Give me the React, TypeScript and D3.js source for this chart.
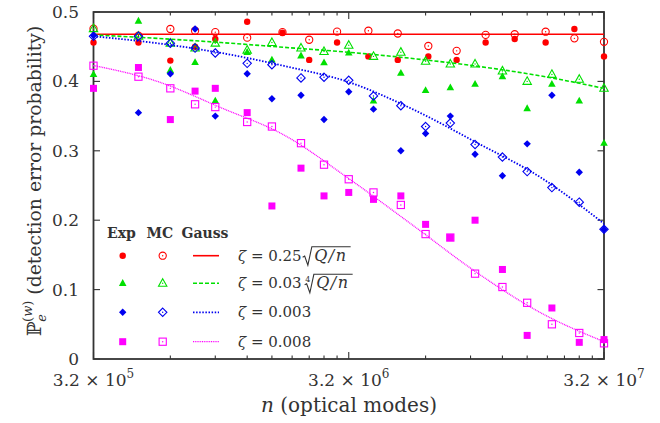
import React, { useLayoutEffect, useRef, useState } from 'react';
import * as d3 from 'd3';

// ---- data ----
const N_SHARED = [3.2e5, 4.8e5, 6.4e5, 8e5, 9.6e5, 1.28e6, 1.6e6, 2.08e6, 2.56e6, 3.2e6, 4e6, 5.12e6, 6.4e6, 8e6, 1e7, 1.28e7, 1.6e7, 2e7, 2.56e7, 3.2e7];
const N_RED = [3.2e5, 4.8e5, 6.4e5, 8e5, 9.6e5, 1.28e6, 1.76e6, 2.24e6, 2.88e6, 3.82e6, 4.98e6, 6.56e6, 8.47e6, 1.1e7, 1.43e7, 1.89e7, 2.45e7, 3.2e7];
const N_GAUSS = [3.2e5, 5.69e5, 1.012e6, 1.8e6, 3.2e6, 5.69e6, 1.012e7, 1.8e7, 3.2e7];

const RED_EXP = [0.456, 0.456, 0.430, 0.450, 0.461, 0.486, 0.470, 0.431, 0.456, 0.436, 0.431, 0.436, 0.431, 0.456, 0.461, 0.456, 0.4755, 0.436];
const RED_MC = [0.476, 0.466, 0.4755, 0.473, 0.471, 0.463, 0.471, 0.460, 0.4717, 0.473, 0.469, 0.451, 0.444, 0.467, 0.468, 0.4716, 0.462, 0.457];
const RED_GAUSS = [0.468, 0.468, 0.468, 0.468, 0.468, 0.468, 0.468, 0.468, 0.468];

const GREEN_EXP = [0.410, 0.487, 0.416, 0.4275, 0.372, 0.442, 0.431, 0.437, 0.427, 0.441, 0.372, 0.412, 0.387, 0.391, 0.396, 0.407, 0.361, 0.396, 0.372, 0.311];
const GREEN_MC = [0.476, 0.465, 0.455, 0.448, 0.455, 0.445, 0.456, 0.448, 0.443, 0.452, 0.436, 0.442, 0.429, 0.425, 0.425, 0.415, 0.400, 0.410, 0.403, 0.390];
const GREEN_GAUSS = [0.467, 0.462, 0.456, 0.449, 0.442, 0.433, 0.422, 0.408, 0.390];

const BLUE_EXP = [0.466, 0.355, 0.411, 0.4755, 0.350, 0.411, 0.375, 0.380, 0.345, 0.385, 0.360, 0.300, 0.325, 0.350, 0.295, 0.264, 0.310, 0.380, 0.269, 0.187];
const BLUE_MC = [0.465, 0.465, 0.455, 0.448, 0.441, 0.426, 0.424, 0.405, 0.406, 0.4016, 0.379, 0.365, 0.335, 0.340, 0.309, 0.291, 0.270, 0.247, 0.226, 0.187];
const BLUE_GAUSS = [0.465, 0.455, 0.441, 0.422, 0.399, 0.360, 0.312, 0.262, 0.195];

const MAG_EXP = [0.390, 0.420, 0.345, 0.386, 0.390, 0.355, 0.2205, 0.275, 0.235, 0.240, 0.230, 0.235, 0.194, 0.175, 0.200, 0.129, 0.034, 0.0735, 0.024, 0.028];
const MAG_MC = [0.4226, 0.4068, 0.390, 0.367, 0.363, 0.3415, 0.335, 0.311, 0.280, 0.259, 0.240, 0.222, 0.180, 0.175, 0.123, 0.1037, 0.081, 0.050, 0.0375, 0.0226];
const MAG_GAUSS = [0.423, 0.400, 0.362, 0.322, 0.260, 0.193, 0.125, 0.067, 0.025];

const Y_TICKS = [0, 0.1, 0.2, 0.3, 0.4, 0.5];
const Y_TICK_LABELS = ['0', '0.1', '0.2', '0.3', '0.4', '0.5'];
const X_MAJOR = [3.2e5, 3.2e6, 3.2e7];
const X_MAJOR_EXP = ['5', '6', '7'];
const X_MINOR_MULT = [2, 3, 4, 5, 6, 7, 8, 9];

const LEGEND_HEADERS = ['Exp', 'MC', 'Gauss'];
const ZETA_VALUES = ['0.25', '0.03', '0.003', '0.008'];

type Shape = 'circle' | 'triangle' | 'diamond' | 'square';

const SERIES = [
  { color: '#ff0000', shape: 'circle' as Shape, nExp: N_RED, exp: RED_EXP, mc: RED_MC, gauss: RED_GAUSS, dash: 'none', width: 1.6, root: 2 },
  { color: '#00e000', shape: 'triangle' as Shape, nExp: N_SHARED, exp: GREEN_EXP, mc: GREEN_MC, gauss: GREEN_GAUSS, dash: '4,2', width: 1.6, root: 4 },
  { color: '#0000f0', shape: 'diamond' as Shape, nExp: N_SHARED, exp: BLUE_EXP, mc: BLUE_MC, gauss: BLUE_GAUSS, dash: '1.5,1.6', width: 1.8, root: 0 },
  { color: '#ff00ff', shape: 'square' as Shape, nExp: N_SHARED, exp: MAG_EXP, mc: MAG_MC, gauss: MAG_GAUSS, dash: '1,0.8', width: 1.3, root: 0 },
];

const W = 660, H = 423;
const M = { left: 93.5, right: 604, top: 12, bottom: 359 };
const FONT = '"DejaVu Serif", serif';
const TXT = '#333';

const x = d3.scaleLog().domain([3.2e5, 3.2e7]).range([M.left, M.right]);
const y = d3.scaleLinear().domain([0, 0.5]).range([M.bottom, M.top]);

function Marker({ shape, filled, cx, cy, color }: { shape: Shape; filled: boolean; cx: number; cy: number; color: string }) {
  const dot = <circle cx={cx} cy={cy} r={0.7} fill={color} />;
  const sw = 1.1;
  if (shape === 'circle') {
    return filled ? <circle cx={cx} cy={cy} r={3.2} fill={color} /> : (
      <g><circle cx={cx} cy={cy} r={3.6} fill="none" stroke={color} strokeWidth={sw} />{dot}</g>
    );
  }
  if (shape === 'triangle') {
    const s = filled ? 3.8 : 4.2;
    const pts = `${cx},${cy - s * 1.1} ${cx + s},${cy + s * 0.7} ${cx - s},${cy + s * 0.7}`;
    return filled ? <polygon points={pts} fill={color} /> : (
      <g><polygon points={pts} fill="none" stroke={color} strokeWidth={sw} />{dot}</g>
    );
  }
  if (shape === 'diamond') {
    const s = filled ? 3.7 : 4.2;
    const pts = `${cx},${cy - s} ${cx + s},${cy} ${cx},${cy + s} ${cx - s},${cy}`;
    return filled ? <polygon points={pts} fill={color} /> : (
      <g><polygon points={pts} fill="none" stroke={color} strokeWidth={sw} />{dot}</g>
    );
  }
  const s = filled ? 3.5 : 3.6;
  return filled ? <rect x={cx - s} y={cy - s} width={2 * s} height={2 * s} fill={color} /> : (
    <g><rect x={cx - s} y={cy - s} width={2 * s} height={2 * s} fill="none" stroke={color} strokeWidth={sw} />{dot}</g>
  );
}

function LegendLabel({ yc, value, root }: { yc: number; value: string; root: number }) {
  const ref = useRef<SVGTextElement>(null);
  const [w, setW] = useState(63);
  useLayoutEffect(() => {
    if (ref.current) setW(ref.current.getComputedTextLength());
  }, []);
  const x0 = 238;
  const base = yc + 5;
  const r0 = x0 + w + 1;
  const top = yc - 9;
  const rootStart = root === 4 ? r0 + 2 : r0;
  const qStart = rootStart + 10;
  const qEnd = qStart + 38;
  return (
    <g fill={TXT} fontFamily={FONT}>
      <text ref={ref} x={x0} y={base} fontSize={15}>
        <tspan fontStyle="italic">ζ</tspan>
        <tspan> = {value}</tspan>
      </text>
      {root > 0 && (
        <g>
          {root === 4 && <text x={rootStart + 0.5} y={yc - 1} fontSize={8}>4</text>}
          <path
            d={`M${rootStart},${yc + 1.5} L${rootStart + 2},${yc + 0.4} L${rootStart + 5.2},${yc + 9.5} L${rootStart + 9.2},${top} L${qEnd},${top}`}
            fill="none" stroke={TXT} strokeWidth={1.1} />
          <text x={qStart + 1.5} y={base} fontSize={16} fontStyle="italic" letterSpacing={1.5}>Q/n</text>
        </g>
      )}
    </g>
  );
}

export default function App() {
  const line = d3.line<[number, number]>().x(d => x(d[0])).y(d => y(d[1])).curve(d3.curveMonotoneX);
  const minorTicks: number[] = [];
  [3.2e5, 3.2e6].forEach(b => X_MINOR_MULT.forEach(k => minorTicks.push(b * k)));
  const legendRows = [255.7, 283.3, 312.3, 341.7];
  const headerX = [107, 146.5, 181.5];

  return (
    <div style={{ position: 'absolute', left: 0, top: 0 }}>
      <svg width={W} height={H} style={{ display: 'block', background: '#fff' }}>
        {/* ticks */}
        <g stroke="#333" strokeWidth={1.1}>
          {Y_TICKS.map(t => (
            <g key={t}>
              <line x1={M.left} x2={M.left + 6.5} y1={y(t)} y2={y(t)} />
              <line x1={M.right} x2={M.right - 6.5} y1={y(t)} y2={y(t)} />
            </g>
          ))}
          {X_MAJOR.map(t => (
            <g key={t}>
              <line x1={x(t)} x2={x(t)} y1={M.bottom} y2={M.bottom - 7} />
              <line x1={x(t)} x2={x(t)} y1={M.top} y2={M.top + 7} />
            </g>
          ))}
          {minorTicks.map(t => (
            <g key={t}>
              <line x1={x(t)} x2={x(t)} y1={M.bottom} y2={M.bottom - 3.5} />
              <line x1={x(t)} x2={x(t)} y1={M.top} y2={M.top + 3.5} />
            </g>
          ))}
        </g>
        <rect x={M.left} y={M.top} width={M.right - M.left} height={M.bottom - M.top} fill="none" stroke="#333" strokeWidth={1.8} />

        {/* tick labels */}
        <g fontFamily={FONT} fill={TXT} fontSize={17}>
          {Y_TICKS.map((t, i) => (
            <text key={t} x={79} y={y(t) + 6} textAnchor="end">{Y_TICK_LABELS[i]}</text>
          ))}
          {X_MAJOR.map((t, i) => (
            <text key={t} x={x(t)} y={386} textAnchor="middle">
              3.2 × 10<tspan dy={-8} fontSize={12}>{X_MAJOR_EXP[i]}</tspan>
            </text>
          ))}
        </g>

        {/* axis titles */}
        <text x={349} y={412} textAnchor="middle" fontFamily={FONT} fill={TXT} fontSize={20}>
          <tspan fontStyle="italic">n</tspan> (optical modes)
        </text>
        <text transform="translate(41,181) rotate(-90)" textAnchor="middle" fontFamily={FONT} fill={TXT} fontSize={18.8}>
          <tspan fontSize={19.5}>ℙ</tspan>
          <tspan fontSize={13} fontStyle="italic" dy={5}>e</tspan>
          <tspan fontSize={13} dx={-8} dy={-14}>(</tspan>
          <tspan fontSize={13} fontStyle="italic">w</tspan>
          <tspan fontSize={13}>)</tspan>
          <tspan dy={9}> (detection error probability)</tspan>
        </text>

        {/* data */}
        {SERIES.map((s, si) => (
          <g key={si}>
            {s.exp.map((v, i) => (
              <Marker key={'e' + i} shape={s.shape} filled cx={x(s.nExp[i])} cy={y(v)} color={s.color} />
            ))}
            {s.mc.map((v, i) => (
              <Marker key={'m' + i} shape={s.shape} filled={false} cx={x(s.nExp[i])} cy={y(v)} color={s.color} />
            ))}
            <path d={line(N_GAUSS.map((n, i) => [n, s.gauss[i]] as [number, number])) || ''}
              fill="none" stroke={s.color} strokeWidth={s.width} strokeDasharray={s.dash} />
          </g>
        ))}

        {/* legend */}
        <g fontFamily={FONT} fill={TXT} fontSize={14} fontWeight="bold">
          {LEGEND_HEADERS.map((h, i) => (
            <text key={h} x={headerX[i]} y={238}>{h}</text>
          ))}
        </g>
        {SERIES.map((s, si) => (
          <g key={'lg' + si}>
            <Marker shape={s.shape} filled cx={122.7} cy={legendRows[si]} color={s.color} />
            <Marker shape={s.shape} filled={false} cx={162.7} cy={legendRows[si]} color={s.color} />
            <line x1={193} x2={219} y1={legendRows[si]} y2={legendRows[si]} stroke={s.color} strokeWidth={s.width} strokeDasharray={s.dash} />
            <LegendLabel yc={legendRows[si]} value={ZETA_VALUES[si]} root={s.root} />
          </g>
        ))}
      </svg>
    </div>
  );
}
